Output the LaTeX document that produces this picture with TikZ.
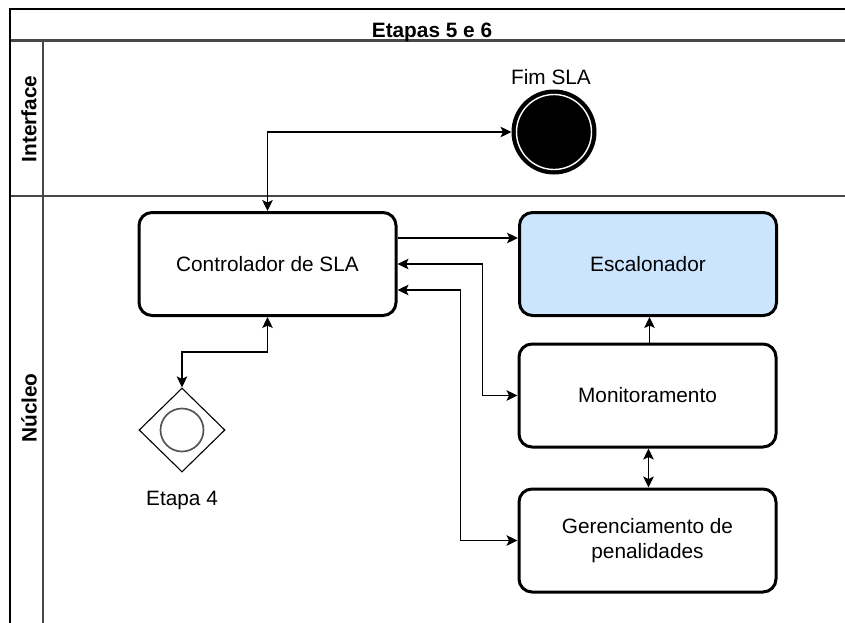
\documentclass[tikz,border=0pt]{standalone}
\usepackage{fontspec}
\setmainfont{Liberation Sans}
\usetikzlibrary{arrows.meta,shapes.geometric,calc}
\definecolor{escfill}{RGB}{204,229,255}
\definecolor{lanegray}{RGB}{72,72,72}
\definecolor{ringgray}{RGB}{85,85,85}
\begin{document}
\begin{tikzpicture}[x=1pt,y=-1pt,
  txt/.style={font=\fontsize{20.8}{25}\selectfont, text=black},
  boldtxt/.style={font=\fontsize{20.8}{25}\selectfont\bfseries, text=black},
  taskbox/.style={draw=black, line width=3pt, rounded corners=13pt, fill=white,
    minimum width=257pt, minimum height=103pt, inner sep=0pt, align=center,
    font=\fontsize{20.8}{25}\selectfont},
  conn/.style={draw=black, line width=1.9pt},
  tip/.tip={Stealth[length=11pt,width=10.5pt,inset=2.5pt]},
  >=tip
]
\useasboundingbox (0,0) rectangle (845,622);
\clip (0,0) rectangle (845,622);
\fill[white] (0,0) rectangle (845,622);

% pool
\draw[lanegray, line width=2.6pt] (10,40.5) -- (860,40.5);
\draw[lanegray, line width=2.6pt] (43,40.5) -- (43,640);
\draw[lanegray, line width=2.6pt] (10,196) -- (860,196);
\draw[black, line width=2.4pt] (10,640) -- (10,9) -- (860,9);

\node[boldtxt, anchor=base] (title) at (432,37) {Etapas 5 e 6};
\node[boldtxt, rotate=90] (lane1) at (29,119) {Interface};
\node[boldtxt, rotate=90] (lane2) at (29,408) {Núcleo};

% nodes
\node[taskbox] (ctrl) at (267.5,264) {Controlador de SLA};
\node[taskbox, fill=escfill] (esc) at (648,264) {Escalonador};
\node[taskbox] (mon) at (647.5,395.5) {Monitoramento};
\node[taskbox] (ger) at (647.5,540.5) {Gerenciamento de\\penalidades};

% end event
\node[circle, fill=black, draw=black, line width=1pt, minimum size=84pt, inner sep=0pt] (fim) at (554,132) {};
\draw[white, line width=1.4pt] (fim.center) circle (37.5pt);
\node[txt, anchor=base] (fimlbl) at (551,84) {Fim SLA};

% Etapa 4
\node[diamond, draw=black, line width=1.1pt, minimum width=86pt, minimum height=84pt, inner sep=0pt] (e4) at (182,430) {};
\draw[ringgray, line width=1.7pt] (e4.center) circle (21.5pt);
\node[txt, anchor=base] (e4lbl) at (182,505) {Etapa 4};

% helper points on box borders
\coordinate (ca) at ($(ctrl.east)+(0,-26)$);
\coordinate (ea) at ($(esc.west)+(0,-26)$);
\coordinate (cb) at ($(ctrl.east)+(0,26)$);
\coordinate (mn) at ($(mon.north)+(2,0)$);
\coordinate (ms) at ($(mon.south)+(1,0)$);

% connectors
\draw[conn, <->] (ctrl.north) |- (fim.west);
\draw[conn, ->] (ca) -- (ea);
\draw[conn, <->] (ctrl.east) -- ++(85,0) |- (mon.west);
\draw[conn, <->] (cb) -- ++(63,0) |- (ger.west);
\draw[conn, ->] (mn) -- (mn |- esc.south);
\draw[conn, <->] (ms) -- (ms |- ger.north);
\draw[conn, <->] (ctrl.south) -- ++(0,35) -| (e4.north);
\end{tikzpicture}
\end{document}
